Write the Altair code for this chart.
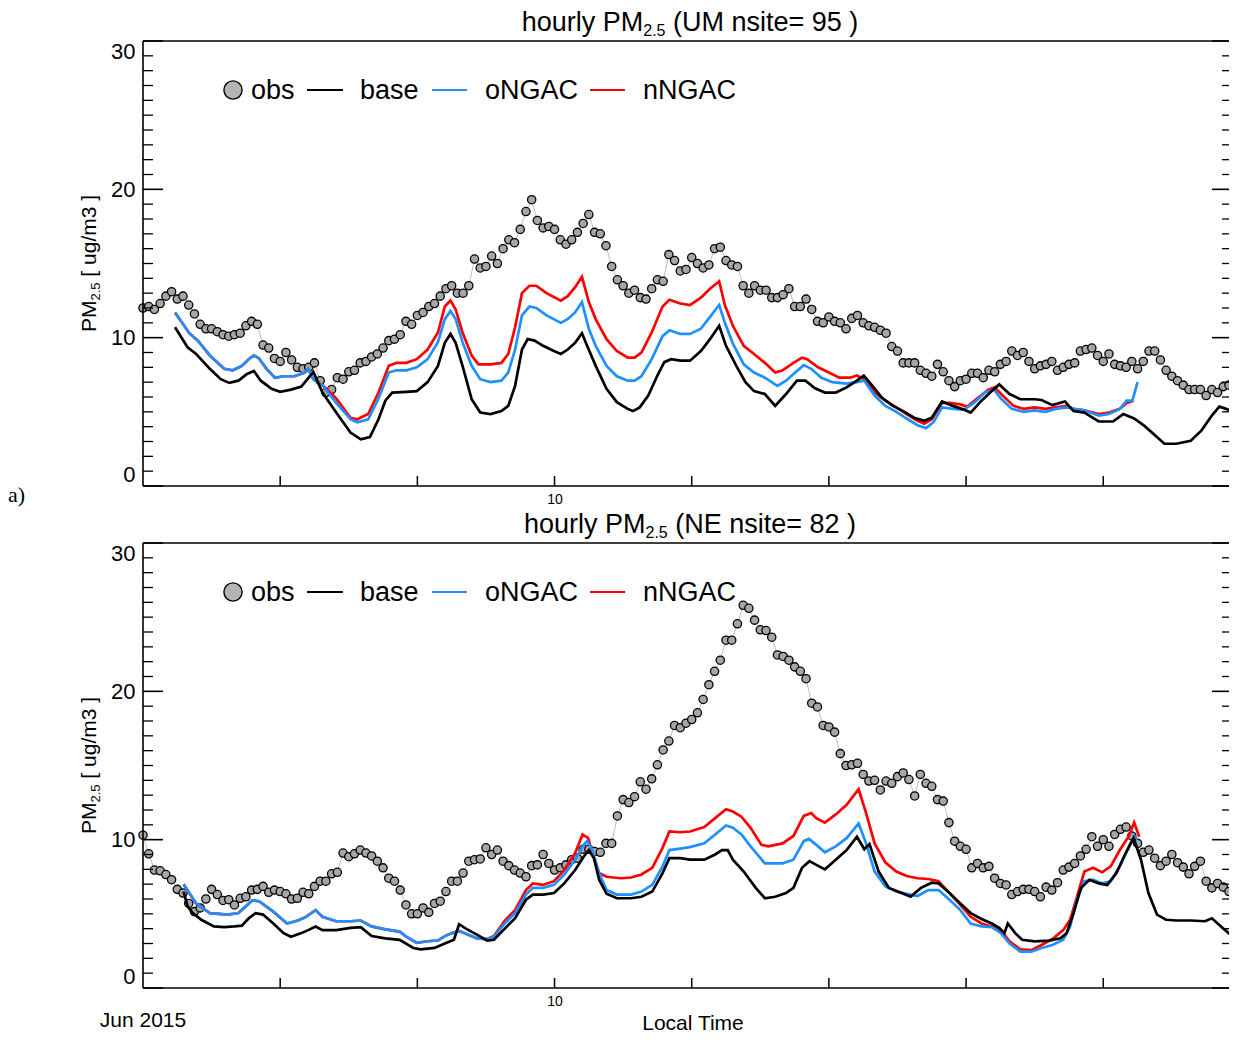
import altair as alt
import pandas as pd

# ---------------- data: hours since 2015-06-07 00:00 local time ----------------
OBS_HOURS = list(range(192))

obs_um = [12.0, 12.1, 11.9, 12.3, 12.8, 13.1, 12.6, 12.8, 12.2, 11.6,
          10.9, 10.6, 10.6, 10.4, 10.2, 10.1, 10.2, 10.3, 10.8, 11.1,
          10.9, 9.5, 9.3, 8.6, 8.4, 9.0, 8.5, 8.0, 7.9, 8.0,
          8.3, 7.1, 6.3, 6.5, 7.3, 7.2, 7.7, 7.8, 8.3, 8.4,
          8.7, 8.9, 9.3, 9.8, 9.9, 10.2, 11.1, 10.9, 11.5, 11.7,
          12.1, 12.3, 12.8, 13.3, 13.5, 13.0, 13.0, 13.5, 15.3, 14.7,
          14.8, 15.5, 15.0, 16.0, 16.6, 16.4, 17.3, 18.5, 19.3, 17.9,
          17.4, 17.5, 17.3, 16.6, 16.3, 16.6, 17.1, 17.7, 18.3, 17.1,
          17.0, 16.2, 14.8, 13.9, 13.5, 13.0, 13.2, 12.7, 12.6, 13.3,
          13.9, 13.8, 15.6, 15.2, 14.5, 14.6, 15.4, 15.0, 14.7, 14.9,
          16.0, 16.1, 15.2, 14.9, 14.8, 13.5, 13.0, 13.5, 13.2, 13.2,
          12.7, 12.7, 12.9, 13.3, 12.1, 12.1, 12.6, 11.9, 11.1, 11.0,
          11.4, 11.1, 11.0, 10.6, 11.3, 11.5, 11.0, 10.8, 10.7, 10.5,
          10.3, 9.4, 9.1, 8.3, 8.3, 8.3, 7.8, 7.6, 7.4, 8.2,
          7.7, 7.1, 6.7, 7.1, 7.2, 7.6, 7.6, 7.3, 7.8, 7.7,
          8.2, 8.4, 9.1, 8.8, 9.0, 8.4, 7.9, 8.1, 8.2, 8.4,
          7.8, 8.0, 8.2, 8.3, 9.1, 9.2, 9.3, 8.8, 8.4, 8.9,
          8.2, 8.1, 8.0, 8.4, 7.9, 8.4, 9.1, 9.1, 8.5, 7.8,
          7.4, 7.1, 6.8, 6.5, 6.5, 6.5, 6.1, 6.5, 6.3, 6.7,
          6.8, 6.5]

base_um = [(5.6, 10.7), (7.8, 9.35), (9.3, 8.9), (11.7, 7.9), (13.6, 7.2), (15.1, 6.95),
           (16.7, 7.1), (18.2, 7.55), (19.4, 7.75), (20.6, 7.1), (22.5, 6.55), (24.0, 6.35),
           (25.9, 6.5), (27.7, 6.7), (29.2, 7.4), (29.8, 7.7), (31.4, 6.3), (33.8, 4.95),
           (36.3, 3.6), (38.1, 3.15), (39.7, 3.3), (41.2, 4.5), (42.4, 5.75), (43.6, 6.3),
           (46.1, 6.35), (47.9, 6.4), (49.8, 7.0), (51.6, 8.1), (52.8, 9.65), (53.8, 10.25),
           (54.7, 9.65), (55.9, 8.1), (57.5, 5.85), (59.0, 4.95), (60.8, 4.85), (62.7, 5.05),
           (63.9, 5.4), (65.1, 6.75), (66.3, 9.2), (67.3, 9.9), (68.5, 9.8), (70.0, 9.45),
           (71.9, 9.1), (73.1, 8.9), (74.3, 9.2), (75.6, 9.65), (76.8, 10.3), (77.7, 9.45),
           (79.2, 8.1), (81.1, 6.55), (82.9, 5.65), (84.8, 5.2), (85.7, 5.05), (86.9, 5.3),
           (88.4, 6.1), (90.0, 7.45), (91.2, 8.35), (92.4, 8.55), (94.0, 8.45), (95.7, 8.45),
           (97.6, 9.1), (99.2, 9.9), (100.8, 10.8), (102.0, 9.45), (103.8, 8.1), (105.4, 7.0),
           (106.9, 6.4), (108.8, 6.2), (110.6, 5.4), (112.5, 6.2), (114.4, 7.1), (115.9, 7.1),
           (117.5, 6.6), (119.3, 6.3), (121.2, 6.3), (123.1, 6.65), (124.9, 7.1), (126.1, 7.45),
           (127.4, 6.85), (129.3, 5.95), (131.2, 5.4), (133.0, 5.05), (134.9, 4.6), (136.7, 4.4),
           (138.0, 4.6), (139.8, 5.7), (141.7, 5.4), (143.6, 5.15), (144.8, 4.95), (146.7, 5.75),
           (148.5, 6.4), (149.8, 6.85), (151.6, 6.2), (153.5, 5.85), (156.0, 5.85), (157.2, 5.8),
           (159.1, 5.45), (161.3, 5.7), (162.8, 5.05), (164.7, 4.95), (167.2, 4.35), (169.7, 4.35),
           (171.5, 4.85), (173.4, 4.55), (175.2, 4.05), (177.1, 3.4), (178.7, 2.85), (180.8, 2.85),
           (183.3, 3.05), (185.2, 3.75), (187.0, 4.75), (188.3, 5.35), (189.5, 5.2), (191.0, 5.0)]

ongac_um = [(5.6, 11.7), (8.1, 10.3), (9.6, 9.8), (11.7, 8.8), (14.2, 7.9), (15.7, 7.8),
            (17.3, 8.1), (18.5, 8.55), (19.4, 8.8), (20.3, 8.6), (21.6, 7.9), (23.1, 7.3),
            (24.6, 7.4), (26.5, 7.4), (28.3, 7.65), (28.9, 7.9), (29.8, 7.2), (31.4, 6.8),
            (33.8, 5.6), (36.3, 4.5), (37.5, 4.3), (39.4, 4.5), (41.2, 5.9), (43.0, 7.65),
            (44.3, 7.8), (46.1, 7.8), (47.9, 8.0), (49.8, 8.55), (51.6, 9.7), (52.8, 11.25),
            (53.8, 11.8), (54.7, 11.25), (55.9, 9.7), (57.5, 8.1), (59.0, 7.2), (60.8, 7.0),
            (62.7, 7.1), (63.9, 7.65), (65.1, 9.2), (66.3, 11.5), (67.6, 12.1), (68.8, 12.0),
            (70.6, 11.5), (73.1, 11.0), (74.3, 11.25), (75.6, 11.7), (76.8, 12.4), (78.0, 10.6),
            (79.2, 9.45), (81.1, 8.1), (82.9, 7.4), (84.8, 7.1), (86.0, 7.1), (87.2, 7.4),
            (89.0, 8.55), (90.9, 10.1), (92.1, 10.5), (94.0, 10.25), (95.7, 10.25), (97.6, 10.6),
            (99.2, 11.4), (100.8, 12.2), (101.8, 11.0), (103.2, 9.6), (105.1, 8.2), (106.9, 7.65),
            (108.8, 7.3), (111.0, 6.75), (112.5, 7.1), (114.1, 7.65), (115.6, 8.15), (116.9, 7.9),
            (118.7, 7.3), (120.6, 7.0), (123.1, 6.9), (124.9, 7.0), (126.2, 7.1), (128.0, 6.1),
            (129.9, 5.4), (131.8, 5.0), (133.6, 4.55), (135.5, 4.1), (137.0, 3.9), (138.3, 4.3),
            (139.8, 5.3), (141.7, 5.2), (143.6, 5.15), (145.4, 5.6), (147.3, 6.3), (148.9, 6.5),
            (150.1, 5.9), (152.0, 5.2), (154.1, 5.0), (156.0, 5.1), (157.9, 5.0), (159.7, 5.2),
            (161.6, 5.3), (162.8, 5.2), (164.7, 5.1), (167.2, 4.75), (169.0, 4.85), (170.9, 5.2),
            (172.1, 5.75), (173.1, 5.75), (174.0, 7.0)]

nngac_um = [(5.6, 11.7), (8.1, 10.3), (9.6, 9.8), (11.7, 8.8), (14.2, 7.9), (15.7, 7.8),
            (17.3, 8.1), (18.5, 8.55), (19.4, 8.8), (20.3, 8.6), (21.6, 7.9), (23.1, 7.3),
            (24.6, 7.4), (26.5, 7.4), (28.3, 7.65), (28.9, 7.9), (29.8, 7.2), (31.4, 6.8),
            (33.8, 5.9), (36.3, 4.6), (37.5, 4.5), (39.4, 4.85), (41.2, 6.3), (43.0, 8.1),
            (44.3, 8.3), (46.1, 8.3), (47.9, 8.55), (49.8, 9.2), (51.6, 10.35), (52.8, 12.1),
            (53.8, 12.5), (54.7, 11.9), (55.9, 10.35), (57.5, 8.8), (58.7, 8.2), (60.8, 8.2),
            (62.7, 8.3), (63.9, 8.9), (65.1, 10.7), (66.3, 13.0), (67.6, 13.5), (68.8, 13.5),
            (70.6, 13.0), (73.1, 12.5), (74.3, 12.8), (75.6, 13.4), (76.8, 14.1), (78.0, 12.4),
            (79.2, 11.25), (81.1, 9.9), (82.9, 9.1), (84.8, 8.65), (86.0, 8.65), (87.2, 9.0),
            (89.0, 10.35), (90.9, 12.1), (92.1, 12.55), (94.0, 12.3), (95.7, 12.2), (97.6, 12.7),
            (99.2, 13.3), (100.8, 13.8), (101.8, 12.2), (103.2, 10.8), (105.1, 9.45), (106.9, 8.9),
            (108.8, 8.3), (110.6, 7.65), (111.9, 7.8), (113.8, 8.3), (115.3, 8.65), (116.2, 8.55),
            (118.1, 8.0), (120.0, 7.65), (121.8, 7.3), (123.7, 7.3), (124.9, 7.45), (126.2, 7.2),
            (128.0, 6.3), (129.9, 5.75), (131.8, 5.3), (133.6, 4.85), (135.5, 4.4), (136.7, 4.2),
            (138.0, 4.5), (139.8, 5.6), (141.1, 5.6), (143.0, 5.5), (144.2, 5.35), (146.1, 5.95),
            (147.9, 6.5), (149.0, 6.65), (150.4, 6.1), (152.3, 5.4), (154.1, 5.2), (156.0, 5.3),
            (157.9, 5.2), (159.7, 5.3), (161.6, 5.4), (162.8, 5.2), (164.7, 5.1), (167.2, 4.85),
            (169.0, 4.95), (170.9, 5.2), (172.1, 5.6), (173.3, 5.75)]

obs_ne = [10.3, 9.05, 7.95, 7.9, 7.65, 7.3, 6.65, 6.4, 5.7, 5.15,
          5.4, 6.0, 6.65, 6.3, 5.9, 5.95, 5.6, 6.05, 6.15, 6.6,
          6.65, 6.85, 6.45, 6.6, 6.5, 6.35, 6.0, 6.05, 6.45, 6.35,
          6.85, 7.2, 7.2, 7.7, 7.8, 9.1, 8.85, 9.05, 9.3, 9.1,
          8.9, 8.55, 8.1, 7.4, 7.2, 6.6, 5.6, 5.0, 5.0, 5.4,
          5.1, 5.7, 5.85, 6.5, 7.2, 7.2, 7.75, 8.55, 8.65, 8.7,
          9.45, 9.0, 9.3, 8.55, 8.25, 7.95, 7.75, 7.5, 8.25, 8.3,
          9.0, 8.4, 7.95, 8.1, 8.3, 8.65, 8.75, 9.35, 9.35, 9.2,
          9.15, 9.75, 9.75, 11.6, 12.7, 12.5, 12.9, 13.9, 13.4, 14.1,
          15.05, 16.05, 16.65, 17.7, 17.55, 17.85, 18.1, 18.55, 19.45, 20.45,
          21.35, 22.1, 23.45, 23.45, 24.55, 25.8, 25.6, 24.8, 24.15, 24.1,
          23.65, 22.45, 22.35, 22.1, 21.65, 21.35, 20.85, 19.2, 18.95, 17.7,
          17.6, 17.25, 15.8, 15.0, 15.05, 15.15, 14.4, 13.95, 14.0, 13.35,
          13.95, 13.8, 14.25, 14.5, 14.05, 12.95, 14.4, 13.8, 13.6, 12.7,
          12.6, 11.15, 9.9, 9.55, 9.35, 8.1, 8.4, 8.1, 8.2, 7.4,
          7.05, 6.95, 6.3, 6.5, 6.65, 6.65, 6.5, 6.15, 6.8, 6.6,
          7.1, 7.95, 8.15, 8.4, 8.9, 9.35, 10.2, 9.55, 10.0, 9.55,
          10.35, 10.7, 10.85, 10.25, 9.75, 9.15, 9.3, 8.75, 8.25, 8.55,
          9.0, 8.45, 8.15, 7.7, 8.2, 8.55, 7.2, 6.75, 7.05, 6.8,
          6.5, 5.9]

base_ne = [(7.1, 6.5), (7.8, 5.5), (8.7, 5.05), (10.2, 4.6), (12.4, 4.15), (14.2, 4.1),
           (16.0, 4.15), (17.3, 4.2), (18.5, 4.7), (19.7, 5.05), (21.0, 4.95), (22.8, 4.35),
           (24.6, 3.7), (25.9, 3.45), (27.7, 3.7), (28.9, 3.9), (30.2, 4.15), (31.4, 3.9),
           (33.8, 3.9), (36.3, 4.05), (38.1, 4.1), (40.0, 3.5), (42.4, 3.35), (44.9, 3.25),
           (47.3, 2.7), (48.6, 2.6), (51.0, 2.7), (52.8, 3.0), (54.4, 3.25), (55.3, 4.3),
           (56.5, 4.0), (58.4, 3.6), (60.2, 3.2), (61.4, 3.25), (63.3, 4.0), (65.1, 4.7),
           (67.0, 5.95), (68.2, 6.3), (70.0, 6.3), (71.9, 6.4), (73.7, 7.05), (75.6, 7.95),
           (77.1, 8.85), (78.0, 9.3), (78.9, 8.75), (79.8, 7.3), (81.1, 6.35), (82.9, 6.05),
           (85.4, 6.05), (87.2, 6.15), (89.1, 6.5), (90.9, 7.75), (92.1, 8.75), (94.0, 8.75),
           (95.7, 8.65), (98.2, 8.65), (100.1, 9.0), (101.3, 9.3), (102.3, 9.3), (103.2, 8.65),
           (105.1, 7.85), (107.2, 6.75), (108.8, 6.05), (110.6, 6.15), (112.5, 6.4), (113.8, 6.75),
           (115.3, 8.1), (116.6, 8.55), (117.8, 8.3), (119.3, 8.0), (121.2, 8.65), (123.1, 9.3),
           (124.9, 10.2), (126.2, 9.35), (127.1, 9.7), (128.7, 7.85), (130.5, 6.75), (132.4, 6.45),
           (134.3, 6.15), (136.1, 6.75), (138.0, 7.1), (139.2, 7.05), (141.1, 6.4), (143.0, 5.7),
           (144.8, 5.05), (146.7, 4.65), (148.5, 4.35), (149.8, 4.05), (150.7, 3.7), (151.3, 4.35),
           (152.6, 3.7), (153.8, 3.25), (156.0, 3.15), (158.5, 3.2), (160.5, 3.35), (161.6, 3.7),
           (162.8, 5.05), (164.1, 6.75), (165.6, 7.3), (167.2, 7.05), (168.7, 6.95), (170.3, 7.75),
           (171.8, 9.0), (173.3, 10.1), (174.6, 8.65), (175.9, 6.4), (177.4, 4.95), (179.0, 4.6),
           (180.8, 4.55), (183.3, 4.55), (185.8, 4.5), (187.0, 4.7), (188.9, 4.05), (191.0, 3.35)]

ongac_ne = [(7.1, 7.0), (9.3, 5.7), (11.7, 5.05), (14.8, 4.95), (16.7, 5.05), (19.1, 5.9),
            (20.3, 5.85), (22.8, 5.15), (25.2, 4.35), (27.1, 4.55), (28.3, 4.75), (30.2, 5.25),
            (31.4, 4.8), (33.8, 4.5), (36.3, 4.5), (38.1, 4.55), (40.0, 4.15), (42.4, 3.95),
            (44.9, 3.8), (46.1, 3.45), (47.9, 3.05), (49.8, 3.15), (51.6, 3.2), (52.8, 3.5),
            (54.1, 3.7), (55.3, 3.85), (56.8, 3.6), (58.4, 3.35), (60.2, 3.3), (61.4, 3.45),
            (63.3, 4.35), (65.1, 5.05), (67.0, 6.3), (68.2, 6.75), (70.0, 6.75), (71.9, 6.95),
            (73.7, 7.65), (75.6, 8.65), (76.9, 9.55), (77.7, 9.9), (78.6, 9.3), (79.8, 7.75),
            (81.1, 6.6), (82.9, 6.3), (85.4, 6.3), (87.2, 6.5), (89.1, 6.95), (90.9, 8.2),
            (92.1, 9.3), (94.0, 9.4), (95.7, 9.5), (98.2, 9.75), (100.1, 10.35), (102.0, 10.95),
            (103.2, 10.8), (104.7, 10.35), (106.3, 9.55), (108.8, 8.4), (111.9, 8.4), (113.8, 8.65),
            (115.6, 9.9), (116.5, 10.05), (117.8, 9.65), (119.3, 9.15), (121.2, 9.55), (123.1, 10.1),
            (125.2, 11.1), (126.5, 9.75), (128.0, 7.85), (129.9, 6.85), (131.8, 6.5), (133.6, 6.35),
            (135.5, 6.2), (137.4, 6.6), (139.2, 6.6), (141.1, 5.95), (143.0, 5.25), (144.8, 4.35),
            (146.7, 4.15), (148.5, 4.1), (150.1, 3.7), (151.6, 3.0), (153.5, 2.45), (155.4, 2.45),
            (157.2, 2.7), (159.1, 2.9), (161.0, 3.25), (162.2, 4.15), (163.4, 5.95), (164.7, 7.2),
            (166.2, 7.3), (167.8, 7.05), (169.3, 7.2), (170.9, 8.2), (172.5, 9.55), (173.4, 10.25),
            (174.0, 10.0)]

nngac_ne = [(7.1, 7.0), (9.3, 5.7), (11.7, 5.05), (14.8, 4.95), (16.7, 5.05), (19.1, 5.9),
            (20.3, 5.85), (22.8, 5.15), (25.2, 4.35), (27.1, 4.55), (28.3, 4.75), (30.2, 5.25),
            (31.4, 4.8), (33.8, 4.5), (36.3, 4.5), (38.1, 4.55), (40.0, 4.15), (42.4, 3.95),
            (44.9, 3.8), (46.1, 3.45), (47.9, 3.05), (49.8, 3.15), (51.6, 3.2), (52.8, 3.5),
            (54.1, 3.7), (55.3, 3.85), (56.8, 3.6), (58.4, 3.35), (60.2, 3.3), (61.4, 3.5),
            (63.3, 4.55), (65.1, 5.25), (67.0, 6.6), (68.2, 7.05), (70.0, 6.95), (71.9, 7.2),
            (73.7, 7.95), (75.6, 9.1), (76.9, 10.35), (77.9, 10.1), (78.6, 9.1), (79.8, 7.75),
            (81.1, 7.5), (83.6, 7.4), (85.4, 7.45), (87.2, 7.65), (89.1, 8.1), (90.9, 9.45),
            (92.1, 10.55), (94.0, 10.5), (95.7, 10.55), (98.2, 10.85), (100.1, 11.45), (102.0, 12.05),
            (103.2, 11.9), (104.7, 11.55), (106.3, 10.8), (108.2, 9.65), (109.4, 9.55), (111.9, 9.75),
            (113.8, 10.25), (115.6, 11.6), (116.9, 11.8), (117.8, 11.45), (119.3, 11.15), (121.2, 11.7),
            (123.1, 12.35), (125.2, 13.4), (126.5, 11.8), (128.0, 9.75), (129.9, 8.45), (131.8, 7.85),
            (133.6, 7.55), (135.5, 7.4), (137.4, 7.35), (139.2, 7.2), (141.1, 6.4), (143.0, 5.6),
            (144.8, 4.8), (146.7, 4.35), (148.5, 4.15), (150.1, 3.9), (151.6, 3.15), (153.5, 2.6),
            (155.4, 2.55), (157.2, 2.9), (159.1, 3.3), (161.0, 3.9), (162.2, 4.6), (163.4, 6.15),
            (164.7, 7.85), (166.2, 8.1), (167.8, 7.8), (169.3, 8.2), (170.9, 9.3), (172.5, 10.25),
            (173.4, 11.15), (174.3, 10.2)]

Y_MAJOR = [0, 10, 20, 30]
Y_MINOR = [i for i in range(1, 30) if i % 10]
DAY_TICK_HOURS = [24, 48, 72, 96, 120, 144, 168]
LEGEND_LABELS = ["obs", "base", "oNGAC", "nNGAC"]

# ---------------- style / layout ----------------
SANS = "Liberation Sans"
SERIF = "Liberation Serif"
W, H = 1086, 445            # plot area of each panel
GAP = 57                    # vertical gap between the two plot areas
PAD_L, PAD_T = 135, 33      # position of the first plot area inside the svg
SVG_W, SVG_H = 1221, 1029   # fixed svg size (content outside is clipped)
BLUE = "#1e90ff"
RED = "#ff0000"
T0 = pd.Timestamp("2015-06-07 00:00:00")
ONE = pd.DataFrame({"d": [0]})

HELV = {' ': 278, '(': 333, ')': 333, '.': 278, '/': 278, '0': 556, '1': 556, '2': 556,
        '3': 556, '5': 556, '8': 556, '9': 556, '=': 584, '[': 278, ']': 278, 'E': 667,
        'M': 833, 'N': 722, 'P': 667, 'U': 722, 'e': 556, 'g': 556, 'h': 556, 'i': 222,
        'l': 222, 'm': 833, 'n': 556, 'o': 556, 'r': 333, 's': 500, 't': 278, 'u': 556,
        'y': 500}


def tw(s, fs):
    return sum(HELV.get(c, 556) for c in s) * fs / 1000.0


def stamp(h):
    return (T0 + pd.Timedelta(hours=h)).strftime("%Y-%m-%dT%H:%M:%S")


def frame_hours(hours, vals):
    return pd.DataFrame({"t": [stamp(h) for h in hours], "v": vals})


def frame_pairs(pairs):
    return frame_hours([p[0] for p in pairs], [p[1] for p in pairs])


xscale = alt.Scale(domain=[alt.DateTime(year=2015, month=6, date=7, hours=0),
                           alt.DateTime(year=2015, month=6, date=14, hours=22)], nice=False)
yscale = alt.Scale(domain=[0, 30], nice=False, zero=False)
xaxis = alt.Axis(values=[alt.DateTime(year=2015, month=6, date=10)], format="%d",
                 labelFontSize=14, labelFont=SANS, labelColor="black", ticks=False,
                 tickSize=0, domain=False, grid=False, labelPadding=6, title=None,
                 labelFlush=False)
yaxis = alt.Axis(values=Y_MAJOR, labelFontSize=22, labelFont=SANS, labelColor="black",
                 ticks=False, tickSize=0, domain=False, grid=False, labelPadding=8,
                 title=None, labelFlush=True)
X = alt.X("t:T", scale=xscale, axis=xaxis)
Y = alt.Y("v:Q", scale=yscale, axis=yaxis)


def txt(s, x, y, fs, angle=None, font=SANS, align="left"):
    kw = dict(text=s, fontSize=fs, font=font, align=align, baseline="alphabetic", color="black")
    if angle is not None:
        kw["angle"] = angle
    return alt.Chart(ONE).mark_text(**kw).encode(x=alt.value(x), y=alt.value(y))


def hrule(x1, x2, y, color="black", width=1.6):
    return alt.Chart(ONE).mark_rule(color=color, strokeWidth=width).encode(
        x=alt.value(x1), x2=alt.value(x2), y=alt.value(y))


def vrule(x, y1, y2, color="black", width=1.6):
    return alt.Chart(ONE).mark_rule(color=color, strokeWidth=width).encode(
        x=alt.value(x), y=alt.value(y1), y2=alt.value(y2))


def panel(obs, base, ong, nng, region, nsite, tag=None, bottom=False):
    layers = []
    dobs = frame_hours(OBS_HOURS, obs)
    layers.append(alt.Chart(dobs).mark_line(color="#bdbdbd", strokeWidth=1).encode(x=X, y=Y))
    layers.append(alt.Chart(dobs).mark_circle(size=68, fill="#a6a6a6", stroke="black",
                                              strokeWidth=1.3, opacity=1).encode(x=X, y=Y))
    for pairs, col in [(nng, RED), (ong, BLUE), (base, "black")]:
        layers.append(alt.Chart(frame_pairs(pairs)).mark_line(color=col, strokeWidth=2.7).encode(x=X, y=Y))

    # inward ticks and frame
    maj = pd.DataFrame({"v": Y_MAJOR})
    mnr = pd.DataFrame({"v": Y_MINOR})
    layers.append(alt.Chart(maj).mark_rule(color="black", strokeWidth=1.6).encode(y=Y, x=alt.value(0), x2=alt.value(20)))
    layers.append(alt.Chart(mnr).mark_rule(color="black", strokeWidth=1.3).encode(y=Y, x=alt.value(0), x2=alt.value(10)))
    layers.append(alt.Chart(maj).mark_rule(color="black", strokeWidth=1.6).encode(y=Y, x=alt.value(W - 17), x2=alt.value(W)))
    layers.append(alt.Chart(mnr).mark_rule(color="black", strokeWidth=1.3).encode(y=Y, x=alt.value(W - 7), x2=alt.value(W)))
    days = frame_hours(DAY_TICK_HOURS, [0] * len(DAY_TICK_HOURS))
    layers.append(alt.Chart(days).mark_rule(color="black", strokeWidth=1.5).encode(x=X, y=alt.value(H), y2=alt.value(H - 10)))
    layers.append(hrule(0, W + 10, 0))
    layers.append(hrule(0, W + 10, H))
    layers.append(vrule(0, 0, H))

    # legend
    ly = 49
    lfs = 27
    layers.append(alt.Chart(ONE).mark_circle(size=330, fill="#b4b4b4", stroke="black", strokeWidth=1.4,
                                             opacity=1).encode(x=alt.value(90), y=alt.value(ly)))
    layers.append(txt(LEGEND_LABELS[0], 108, ly + 9, lfs))
    layers.append(hrule(164, 200, ly, "black", 1.8))
    layers.append(txt(LEGEND_LABELS[1], 217, ly + 9, lfs))
    layers.append(hrule(289, 324, ly, BLUE, 1.8))
    layers.append(txt(LEGEND_LABELS[2], 342, ly + 9, lfs))
    layers.append(hrule(447, 482, ly, RED, 1.8))
    layers.append(txt(LEGEND_LABELS[3], 500, ly + 9, lfs))

    # title with subscript (leading blanks are collapsed by SVG, so offset them explicitly)
    p1, sub, p2 = "hourly PM", "2.5", f"({region} nsite= {nsite} )"
    fs, sfs = 27, 16
    gap = tw(" ", fs)
    wt = tw(p1, fs) + tw(sub, sfs) + gap + tw(p2, fs)
    x0 = 547 - wt / 2
    layers.append(txt(p1, x0, -10, fs))
    layers.append(txt(sub, x0 + tw(p1, fs), -5, sfs))
    layers.append(txt(p2, x0 + tw(p1, fs) + tw(sub, sfs) + gap, -10, fs))

    # rotated y title with subscript
    q1, qs, q2 = "PM", "2.5", "[ ug/m3 ]"
    yfs, ysfs = 21, 13
    ygap = tw(" ", yfs)
    wy = tw(q1, yfs) + tw(qs, ysfs) + ygap + tw(q2, yfs)
    y0 = H / 2 + wy / 2
    layers.append(txt(q1, -47, y0, yfs, angle=270))
    layers.append(txt(qs, -43, y0 - tw(q1, yfs), ysfs, angle=270))
    layers.append(txt(q2, -47, y0 - tw(q1, yfs) - tw(qs, ysfs) - ygap, yfs, angle=270))

    if tag:
        layers.append(txt(tag, -135, 461, 22, font=SERIF))
    if bottom:
        layers.append(txt("Jun 2015", 0, 484, 21, align="center"))
        layers.append(txt("Local Time", 550, 487, 21, align="center"))
    return alt.layer(*layers).properties(width=W, height=H)


top = panel(obs_um, base_um, ongac_um, nngac_um, "UM", 95, tag="a)")
bot = panel(obs_ne, base_ne, ongac_ne, nngac_ne, "NE", 82, bottom=True)

# autosize "none": the svg is width + left/right padding wide and only top/bottom
# padding tall, so the page never overflows the window
chart = alt.vconcat(top, bot, spacing=GAP, bounds="flush").properties(
    autosize=alt.AutoSizeParams(type="none"),
    padding={"left": PAD_L, "top": PAD_T, "right": SVG_W - PAD_L - W, "bottom": SVG_H - PAD_T},
).configure_view(strokeOpacity=0)

chart.save("out.html", embed_options={"renderer": "svg", "actions": False})
